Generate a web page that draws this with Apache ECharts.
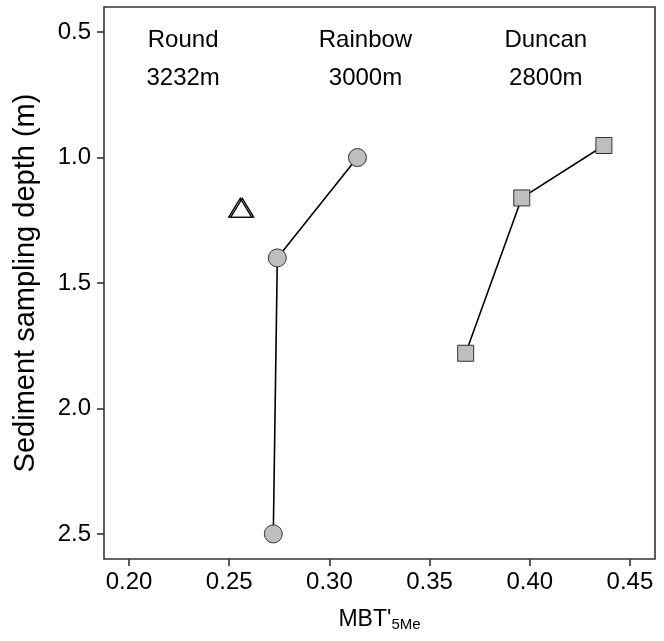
<!DOCTYPE html>
<html><head><meta charset="utf-8">
<script src="https://cdn.jsdelivr.net/npm/echarts@6/dist/echarts.min.js"></script>
<style>html,body{margin:0;padding:0;background:#fff}#c{width:664px;height:641px}</style>
</head><body><div id="c"></div>
<script>
// ---- data ----
const xTicks = [0.20, 0.25, 0.30, 0.35, 0.40, 0.45];
const yTicks = [0.5, 1.0, 1.5, 2.0, 2.5];
const roundX = [0.2555, 0.2565];
const roundDepth = [1.2, 1.2];
const rainbowX = [0.314, 0.274, 0.272];
const rainbowDepth = [1.0, 1.4, 2.5];
const duncanX = [0.437, 0.396, 0.368];
const duncanDepth = [0.952, 1.161, 1.78];
const siteNames = ['Round', 'Rainbow', 'Duncan'];
const siteDepths = ['3232m', '3000m', '2800m'];
const siteLabelX = [0.227, 0.318, 0.408];
const siteLabelY = 0.607;

const FONT = '"Liberation Sans", Arial, Helvetica, sans-serif';
const pairs = (xs, ys) => xs.map((x, i) => [x, ys[i]]);

const chart = echarts.init(document.getElementById('c'), null, {renderer: 'canvas'});
chart.setOption({
  animation: false,
  backgroundColor: '#fff',
  grid: {left: 104, right: 9, top: 7, bottom: 82, containLabel: false, outerBoundsMode: 'none',
    show: true, borderColor: '#333', borderWidth: 1.6, backgroundColor: 'transparent'},
  xAxis: {
    type: 'value', min: 0.1875, max: 0.4625,
    splitLine: {show: false},
    axisLine: {show: false},
    axisTick: {show: true, length: 7, inside: false, customValues: xTicks, lineStyle: {color: '#333', width: 1.6}},
    axisLabel: {customValues: xTicks, formatter: v => v.toFixed(2), fontFamily: FONT, fontSize: 24, color: '#000', margin: 11},
    name: "{a|MBT'}{b|5Me}",
    nameLocation: 'middle', nameGap: 49,
    nameTextStyle: {fontFamily: FONT, rich: {
      a: {fontFamily: FONT, fontSize: 23, color: '#000', verticalAlign: 'top', lineHeight: 24},
      b: {fontFamily: FONT, fontSize: 15, color: '#000', verticalAlign: 'bottom', lineHeight: 15, padding: [14, 0, 0, 0]}
    }}
  },
  yAxis: {
    type: 'value', min: 0.4, max: 2.6, inverse: true,
    splitLine: {show: false},
    axisLine: {show: false},
    axisTick: {show: true, length: 7, inside: false, customValues: yTicks, lineStyle: {color: '#333', width: 1.6}},
    axisLabel: {customValues: yTicks, formatter: v => v.toFixed(1), fontFamily: FONT, fontSize: 24, color: '#000', margin: 13},
    name: 'Sediment sampling depth (m)',
    nameLocation: 'middle', nameGap: 64,
    nameTextStyle: {fontFamily: FONT, fontSize: 29, color: '#000'}
  },
  series: [
    {
      type: 'line', data: pairs(rainbowX, rainbowDepth),
      lineStyle: {color: '#000', width: 1.6},
      symbol: 'circle', symbolSize: 18,
      itemStyle: {color: '#bebebe', borderColor: '#333', borderWidth: 1, opacity: 1},
      emphasis: {disabled: true}, z: 3
    },
    {
      type: 'line', data: pairs(duncanX, duncanDepth),
      lineStyle: {color: '#000', width: 1.6},
      symbol: 'rect', symbolSize: 16,
      itemStyle: {color: '#bebebe', borderColor: '#333', borderWidth: 1, opacity: 1},
      emphasis: {disabled: true}, z: 3
    },
    {
      type: 'scatter', data: pairs(roundX, roundDepth),
      symbol: 'triangle', symbolSize: [23, 19],
      itemStyle: {color: 'rgba(0,0,0,0)', borderColor: '#000', borderWidth: 1.3, opacity: 1},
      emphasis: {disabled: true}, z: 3
    },
    {
      type: 'scatter', symbolSize: 0, silent: true,
      itemStyle: {opacity: 1},
      data: siteLabelX.map((x, i) => ({value: [x, siteLabelY]})),
      label: {show: true, position: 'inside', fontFamily: FONT, fontSize: 24, color: '#000', lineHeight: 38, align: 'center', verticalAlign: 'middle',
        formatter: p => siteNames[p.dataIndex] + '\n' + siteDepths[p.dataIndex]}
    }
  ]
});
</script>
</body></html>
